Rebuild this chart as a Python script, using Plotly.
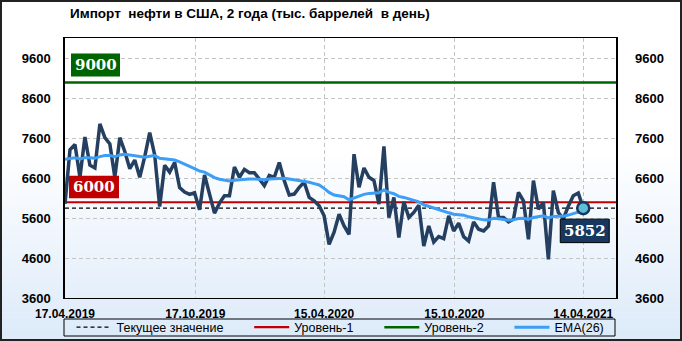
import plotly.graph_objects as go
import pandas as pd

# ---------------- data ----------------
dates = pd.date_range("2019-04-17", periods=105, freq="7D")

imports = [
    5962, 7316, 7445, 6626, 7634, 6928, 6859, 7962, 7617, 7462,
    6626, 7617, 7272, 6841, 7057, 6626, 7143, 7747, 7186, 5893,
    6928, 6755, 6997, 6367, 6255, 6195, 6238, 5810,
    6684, 6163, 5726, 5978, 6163, 6163, 6884, 6625, 6824, 6738,
    6738, 6583, 6415, 6669, 6625, 6997, 6541, 6180, 6205, 6373,
    6500, 6121, 6037, 5911, 5659,
    4945, 5250,
    5701, 5407, 5197, 7203, 6373, 6859, 6626, 6541, 5953, 7402,
    5617, 6121, 5113, 6012, 5617, 5743, 5928, 4903, 5407, 5004,
    5138, 5088, 5659, 5281, 5474, 5138,
    5029, 5508, 5323, 5281, 5407, 6499, 5617, 5617, 5508, 5575,
    6247, 6037, 5071, 6541, 5827, 5995, 4567, 6289, 5743, 5580,
    5900, 6163, 6230, 5852,
]

ema26 = [
    7074, 7100, 7117, 7083, 7117, 7117, 7100, 7143, 7169, 7169,
    7143, 7186, 7203, 7186, 7160, 7134, 7126, 7152, 7169, 7100,
    7083, 7066, 7057, 7014, 6962, 6910, 6841, 6781,
    6755, 6686, 6617, 6575, 6550, 6533, 6550, 6566, 6583, 6583,
    6583, 6575, 6566, 6583, 6592, 6609, 6600, 6583, 6566, 6550,
    6524, 6499, 6466, 6432, 6348, 6247, 6180,
    6163, 6138, 6062, 6113, 6155, 6197, 6222, 6239, 6239, 6306,
    6247, 6214, 6146, 6121, 6079, 6046, 6012, 5936, 5894, 5844,
    5802, 5760, 5735, 5701, 5684, 5676,
    5634, 5609, 5575, 5558, 5550, 5600, 5584, 5567, 5550, 5558,
    5592, 5600, 5567, 5617, 5642, 5659, 5609, 5642, 5651, 5651,
    5676, 5710, 5752, 5802,
]

level1 = 6000
level2 = 9000
current = imports[-1]

tick_dates = ["2019-04-17", "2019-10-17", "2020-04-15", "2020-10-15", "2021-04-14"]
tick_labels = ["17.04.2019", "17.10.2019", "15.04.2020", "15.10.2020", "14.04.2021"]
y_ticks = [3600, 4600, 5600, 6600, 7600, 8600, 9600]
y_range = [3600, 10116]
x_range = [dates[0], pd.Timestamp("2021-05-30")]

title = "Импорт\u00a0 нефти в США, 2 года (тыс. баррелей\u00a0 в день)"
legend_names = ["Текущее значение", "Уровень-1", "Уровень-2", "EMA(26)"]
pad = "\u00a0" * 6

# ---------------- figure ----------------
W, H = 682, 341
ML, MR, MT, MB = 65, 66, 38, 43
PW, PH = W - ML - MR, H - MT - MB

navy = "#243f60"
ema_c = "#3d9ef5"
red = "#c00000"
green = "#006400"

fig = go.Figure()

span = list(x_range)
fig.add_trace(go.Scatter(x=span, y=[current, current], mode="lines",
                         line=dict(color="black", width=1.3, dash="4px,3px"),
                         name=legend_names[0] + pad, legendrank=1, hoverinfo="skip"))
fig.add_trace(go.Scatter(x=span, y=[level1, level1], mode="lines",
                         line=dict(color=red, width=2.2),
                         name=legend_names[1] + pad, legendrank=2, hoverinfo="skip"))
fig.add_trace(go.Scatter(x=span, y=[level2, level2], mode="lines",
                         line=dict(color=green, width=2.5),
                         name=legend_names[2] + pad, legendrank=3, hoverinfo="skip"))
fig.add_trace(go.Scatter(x=dates, y=imports, mode="lines",
                         line=dict(color=navy, width=3.5),
                         showlegend=False, name="Импорт"))
fig.add_trace(go.Scatter(x=dates, y=ema26, mode="lines",
                         line=dict(color=ema_c, width=3),
                         name=legend_names[3], legendrank=4))
fig.add_trace(go.Scatter(x=[dates[-1]], y=[current], mode="markers",
                         marker=dict(size=12, color="#5ebfd9",
                                     line=dict(color="#17375e", width=2.5)),
                         showlegend=False, hoverinfo="skip"))
# invisible trace so the right axis renders
fig.add_trace(go.Scatter(x=dates, y=imports, yaxis="y2", mode="lines",
                         line=dict(width=0), opacity=0, showlegend=False,
                         hoverinfo="skip"))

shapes = []
x0p, x1p = -ML / PW, (W - ML) / PW
def py(px):  # pixel y (from top) -> paper y
    return (H - MB - px) / PH
g_start = 150
N = 40
c0 = (255, 255, 255)
c1 = (220, 234, 249)
for k in range(N):
    a = g_start + (H - g_start) * k / N
    b = g_start + (H - g_start) * (k + 1) / N
    t = (k + 0.5) / N
    col = tuple(round(c0[j] + (c1[j] - c0[j]) * t) for j in range(3))
    shapes.append(dict(type="rect", xref="paper", yref="paper",
                       x0=x0p, x1=x1p, y0=py(b + 0.5), y1=py(a),
                       fillcolor="rgb(%d,%d,%d)" % col, line=dict(width=0),
                       layer="below"))
# outer frame
shapes.append(dict(type="rect", xref="paper", yref="paper",
                   x0=(-ML + 1) / PW, x1=(W - ML - 1) / PW,
                   y0=py(H - 1), y1=py(1),
                   line=dict(color="#222", width=2), fillcolor="rgba(0,0,0,0)",
                   layer="above"))
# legend box
shapes.append(dict(type="rect", xref="paper", yref="paper",
                   x0=-1 / PW, x1=(615 - ML) / PW, y0=py(336), y1=py(319),
                   line=dict(color="black", width=1), fillcolor="rgba(0,0,0,0)",
                   layer="above"))
# value label boxes
shapes.append(dict(type="rect", xref="x", yref="y", xsizemode="pixel", ysizemode="pixel",
                   xanchor=dates[0], yanchor=level2, x0=6, x1=55, y0=6, y1=29,
                   fillcolor=green, line=dict(width=0), layer="above"))
shapes.append(dict(type="rect", xref="x", yref="y", xsizemode="pixel", ysizemode="pixel",
                   xanchor=dates[0], yanchor=level1, x0=4, x1=54, y0=4, y1=26.5,
                   fillcolor=red, line=dict(width=0), layer="above"))
shapes.append(dict(type="rect", xref="x", yref="y", xsizemode="pixel", ysizemode="pixel",
                   xanchor=dates[-1], yanchor=current, x0=-23, x1=26, y0=-34.5, y1=-11,
                   fillcolor="#17375e", line=dict(color="black", width=1), layer="above"))

lab_font = dict(family="DejaVu Serif", size=15, color="white", weight="bold")
annotations = [
    dict(x=dates[0], y=level2, xref="x", yref="y", text=str(level2), showarrow=False,
         xshift=30.5, yshift=17.5, font=lab_font),
    dict(x=dates[0], y=level1, xref="x", yref="y", text=str(level1), showarrow=False,
         xshift=29, yshift=15.2, font=lab_font),
    dict(x=dates[-1], y=current, xref="x", yref="y", text=str(current), showarrow=False,
         xshift=1.5, yshift=-22.7, font=lab_font),
    dict(x=3 / PW, y=1 + 24 / PH, xref="paper", yref="paper", text=title,
         showarrow=False, xanchor="left", yanchor="middle",
         font=dict(family="Liberation Sans", size=13.5, color="black", weight="bold")),
]

tick_font = dict(family="Liberation Sans", size=13, color="black", weight="bold")
fig.update_layout(
    width=W, height=H,
    margin=dict(l=ML, r=MR, t=MT, b=MB, autoexpand=False),
    paper_bgcolor="white",
    plot_bgcolor="rgba(0,0,0,0)",
    shapes=shapes,
    annotations=annotations,
    showlegend=True,
    legend=dict(orientation="h", x=0.5, xanchor="center",
                yref="container", y=1 - 327.5 / H, yanchor="middle",
                font=dict(family="Liberation Sans", size=12.5, color="black"),
                bgcolor="rgba(0,0,0,0)", borderwidth=0, traceorder="normal",
                itemwidth=35),
    xaxis=dict(type="date", range=x_range, tickvals=tick_dates, ticktext=tick_labels,
               showgrid=True, gridcolor="#c4c4c4", griddash="4px,3px", gridwidth=1,
               showline=True, linecolor="black", linewidth=1, mirror=True,
               ticks="", ticklabelstandoff=5,
               tickfont=dict(family="Liberation Sans", size=12, color="black", weight="bold"),
               zeroline=False, fixedrange=True, automargin=False),
    yaxis=dict(range=y_range, tickvals=y_ticks, showgrid=True, gridcolor="#c4c4c4",
               griddash="4px,3px", gridwidth=1, showline=True, linecolor="black",
               linewidth=1.5, mirror=True, ticks="", tickfont=tick_font,
               ticklabelstandoff=10, zeroline=False, fixedrange=True, automargin=False),
    yaxis2=dict(range=y_range, tickvals=y_ticks, overlaying="y", side="right",
                showgrid=False, showline=False, ticks="", tickfont=tick_font,
                ticklabelstandoff=18, zeroline=False, fixedrange=True, automargin=False),
)

fig.write_html("out.html")
